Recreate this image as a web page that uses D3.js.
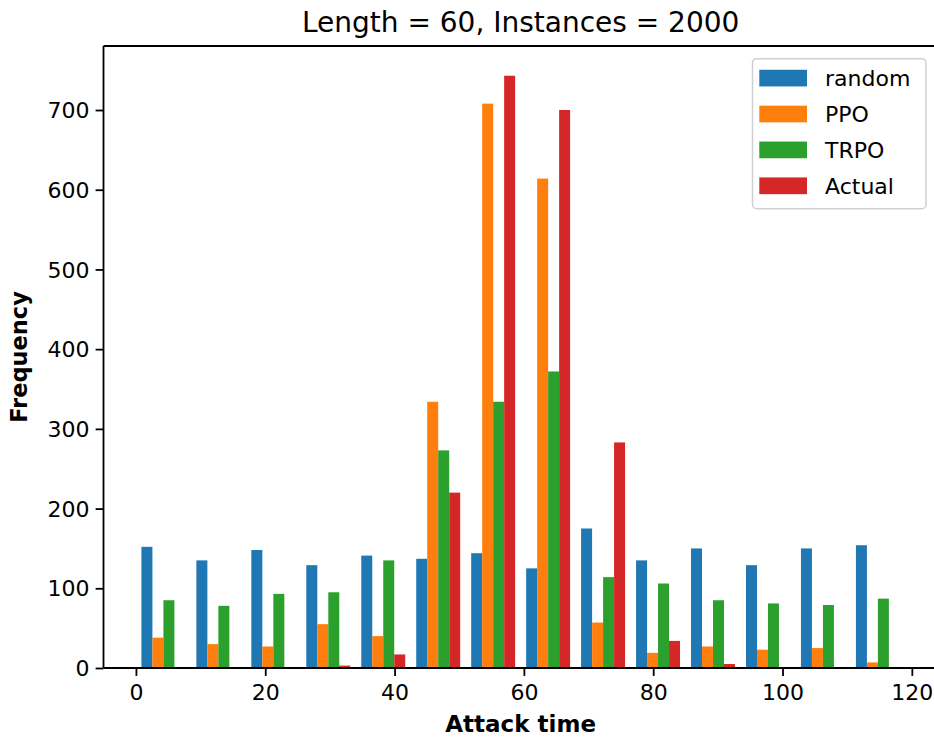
<!DOCTYPE html>
<html>
<head>
<meta charset="utf-8">
<script src="https://cdn.jsdelivr.net/npm/d3@7"></script>
<style>
  body { margin: 0; background: #fff; }
  svg { display: block; }
  text { font-family: "DejaVu Sans", sans-serif; fill: #000; }
</style>
</head>
<body>
<svg id="chart" width="934" height="737"></svg>
<script>
// ---- data ----
const binEdges = [0, 8.5, 17, 25.5, 34, 42.5, 51, 59.5, 68, 76.5, 85, 93.5, 102, 110.5, 119];
const seriesNames = ["random", "PPO", "TRPO", "Actual"];
const seriesColors = ["#1f77b4", "#ff7f0e", "#2ca02c", "#d62728"];
const randomCounts = [152, 135, 148, 129, 141, 137, 144, 125, 175, 135, 150, 129, 150, 154];
const ppoCounts    = [38, 30, 27, 55, 40, 334, 708, 614, 57, 19, 27, 23, 25, 7];
const trpoCounts   = [85, 78, 93, 95, 135, 273, 334, 372, 114, 106, 85, 81, 79, 87];
const actualCounts = [0, 0, 0, 3, 17, 220, 743, 700, 283, 34, 5, 0, 0, 0];
const xTicks = [0, 20, 40, 60, 80, 100, 120];
const yTicks = [0, 100, 200, 300, 400, 500, 600, 700];
const titleText = "Length = 60, Instances = 2000";
const xLabel = "Attack time";
const yLabel = "Frequency";

const allSeries = [randomCounts, ppoCounts, trpoCounts, actualCounts];

// ---- layout ----
const svg = d3.select("#chart");
const pL = 103.5, pR = 937.8, pT = 46, pB = 668;
const x = d3.scaleLinear().domain([-5.015, 124.015]).range([pL, pR]);
const y = d3.scaleLinear().domain([0, 780.3]).range([pB, pT]);
const fs = 22;

// bars (matplotlib multi-dataset hist layout)
const nS = allSeries.length;
allSeries.forEach((counts, j) => {
  svg.append("g").selectAll("rect")
    .data(counts.map((c, i) => ({ c, lo: binEdges[i], hi: binEdges[i + 1] })))
    .join("rect")
    .attr("x", d => {
      const bw = d.hi - d.lo;
      const dw = 0.8 * bw / nS;
      return x(d.lo + 0.1 * bw + j * dw);
    })
    .attr("width", d => {
      const bw = d.hi - d.lo;
      return x(0.8 * bw / nS) - x(0);
    })
    .attr("y", d => y(d.c))
    .attr("height", d => y(0) - y(d.c))
    .attr("fill", seriesColors[j]);
});

// axes
const xAxis = d3.axisBottom(x).tickValues(xTicks).tickSize(7.9).tickPadding(6).tickFormat(d3.format("d"));
const yAxis = d3.axisLeft(y).tickValues(yTicks).tickSize(7.9).tickPadding(6).tickFormat(d3.format("d"));

const gx = svg.append("g").attr("transform", `translate(0,${pB})`).call(xAxis);
const gy = svg.append("g").attr("transform", `translate(${pL},0)`).call(yAxis);
[gx, gy].forEach(g => {
  g.select(".domain").remove();
  g.selectAll(".tick line").attr("stroke", "#000").attr("stroke-width", 1.8);
  g.selectAll(".tick text").attr("font-size", fs).attr("font-family", "DejaVu Sans").attr("fill", "#000");
});
gx.selectAll(".tick text").attr("dy", "0.8em");
gy.selectAll(".tick text").attr("dy", "0.35em");

// spines
const sp = svg.append("g").attr("stroke", "#000").attr("stroke-width", 1.8).attr("fill", "none");
sp.append("line").attr("x1", pL).attr("x2", pL).attr("y1", pT).attr("y2", pB);
sp.append("line").attr("x1", pL).attr("x2", pR).attr("y1", pB).attr("y2", pB);
sp.append("line").attr("x1", pL).attr("x2", pR).attr("y1", pT).attr("y2", pT);
sp.append("line").attr("x1", pR).attr("x2", pR).attr("y1", pT).attr("y2", pB);

// title & labels
svg.append("text").attr("x", (pL + pR) / 2).attr("y", 32)
  .attr("text-anchor", "middle").attr("font-size", 28).text(titleText);
svg.append("text").attr("x", (pL + pR) / 2).attr("y", 732)
  .attr("text-anchor", "middle").attr("font-size", 23).attr("font-weight", "bold").text(xLabel);
svg.append("text").attr("transform", `translate(27,${(pT + pB) / 2}) rotate(-90)`)
  .attr("text-anchor", "middle").attr("font-size", 22.5).attr("font-weight", "bold").text(yLabel);

// legend
const lg = svg.append("g");
lg.append("rect").attr("x", 752.5).attr("y", 58.7).attr("width", 173.5).attr("height", 150)
  .attr("rx", 4).attr("fill", "#fff").attr("fill-opacity", 0.8)
  .attr("stroke", "#d0d0d0").attr("stroke-width", 1.5);
const rowY = d3.scaleLinear().domain([0, 3]).range([78.1, 185.8]);
seriesNames.forEach((name, j) => {
  lg.append("rect").attr("x", 759.3).attr("y", rowY(j) - 8.35).attr("width", 47.7).attr("height", 16.7)
    .attr("fill", seriesColors[j]);
  lg.append("text").attr("x", 825).attr("y", rowY(j)).attr("dy", "0.35em")
    .attr("font-size", fs).text(name);
});
</script>
</body>
</html>
